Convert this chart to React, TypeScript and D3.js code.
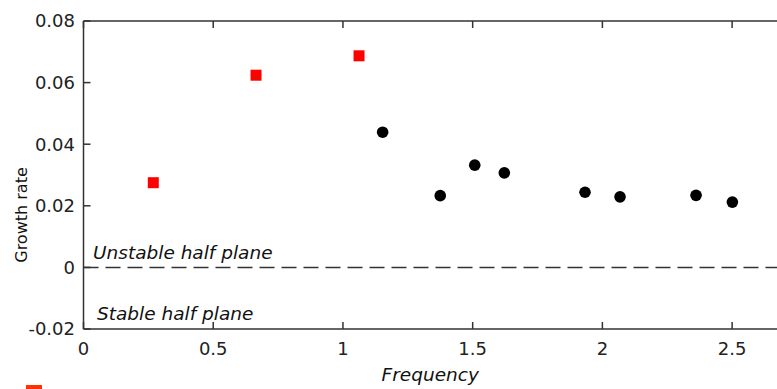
import React from 'react';
import * as d3 from 'd3';

// unstable modes (red squares)
const squareFreq = [0.269, 0.665, 1.062];
const squareRate = [0.0275, 0.0624, 0.0687];

// black circles
const circleFreq = [1.153, 1.375, 1.508, 1.622, 1.933, 2.068, 2.361, 2.501];
const circleRate = [0.0439, 0.0233, 0.0332, 0.0307, 0.0244, 0.0229, 0.0234, 0.0212];

const xTicks = [0, 0.5, 1, 1.5, 2, 2.5];
const yTicks = [-0.02, 0, 0.02, 0.04, 0.06, 0.08];
const xTickLabels = ['0', '0.5', '1', '1.5', '2', '2.5'];
const yTickLabels = ['-0.02', '0', '0.02', '0.04', '0.06', '0.08'];

const W = 777;
const H = 389;
const margin = { top: 21, right: 0, bottom: 60, left: 83.5 };
const font = '"DejaVu Sans", Verdana, sans-serif';
const axisColor = '#333';

export default function App() {
  const x = d3.scaleLinear().domain([0, 2.673]).range([margin.left, W - margin.right]);
  const y = d3.scaleLinear().domain([-0.02, 0.08]).range([H - margin.bottom, margin.top]);
  const [x0, x1] = x.range();
  const [yb, yt] = y.range();
  const tick = 7;

  return (
    <svg width={W} height={H} style={{ position: 'absolute', left: 0, top: 0, background: '#fff' }}>
      {/* zero line */}
      <line x1={x0} x2={x1} y1={y(0)} y2={y(0)} stroke={axisColor} strokeWidth={1.5} strokeDasharray="15,7" />

      {/* frame */}
      <line x1={x0} x2={x1 + 2} y1={yt} y2={yt} stroke={axisColor} strokeWidth={1.5} />
      <line x1={x0} x2={x1 + 2} y1={yb} y2={yb} stroke={axisColor} strokeWidth={1.5} />
      <line x1={x0} x2={x0} y1={yt} y2={yb} stroke={axisColor} strokeWidth={1.5} />

      {xTicks.map((t, i) => (
        <g key={'xt' + i}>
          <line x1={x(t)} x2={x(t)} y1={yb} y2={yb - tick} stroke={axisColor} strokeWidth={1.5} />
          <line x1={x(t)} x2={x(t)} y1={yt} y2={yt + tick} stroke={axisColor} strokeWidth={1.5} />
          <text x={x(t)} y={yb + 26} textAnchor="middle" fontFamily={font} fontSize={18} fill="#222">
            {xTickLabels[i]}
          </text>
        </g>
      ))}

      {yTicks.map((t, i) => (
        <g key={'yt' + i}>
          <line x1={x0} x2={x0 + tick} y1={y(t)} y2={y(t)} stroke={axisColor} strokeWidth={1.5} />
          <text x={75} y={y(t)} dy="0.36em" textAnchor="end" fontFamily={font} fontSize={18} fill="#222">
            {yTickLabels[i]}
          </text>
        </g>
      ))}

      {/* axis titles */}
      <text x={(x0 + x1) / 2} y={381} textAnchor="middle" fontFamily={font} fontStyle="italic" fontSize={18.5} fill="#111">
        Frequency
      </text>
      <text transform={`translate(27,215) rotate(-90)`} textAnchor="middle" fontFamily={font} fontSize={16} fill="#111">
        Growth rate
      </text>

      {/* annotations */}
      <text x={93} y={259} fontFamily={font} fontStyle="italic" fontSize={18.5} fill="#111">
        Unstable half plane
      </text>
      <text x={97} y={320} fontFamily={font} fontStyle="italic" fontSize={18.5} fill="#111">
        Stable half plane
      </text>

      {/* points */}
      {squareFreq.map((f, i) => (
        <rect key={'s' + i} x={x(f) - 5.5} y={y(squareRate[i]) - 5.5} width={11} height={11} fill="#ff0000" />
      ))}
      {circleFreq.map((f, i) => (
        <circle key={'c' + i} cx={x(f)} cy={y(circleRate[i])} r={5.8} fill="#000" />
      ))}

      {/* clipped legend marker */}
      <rect x={26} y={385} width={16} height={5} fill="#ff3300" />
    </svg>
  );
}
